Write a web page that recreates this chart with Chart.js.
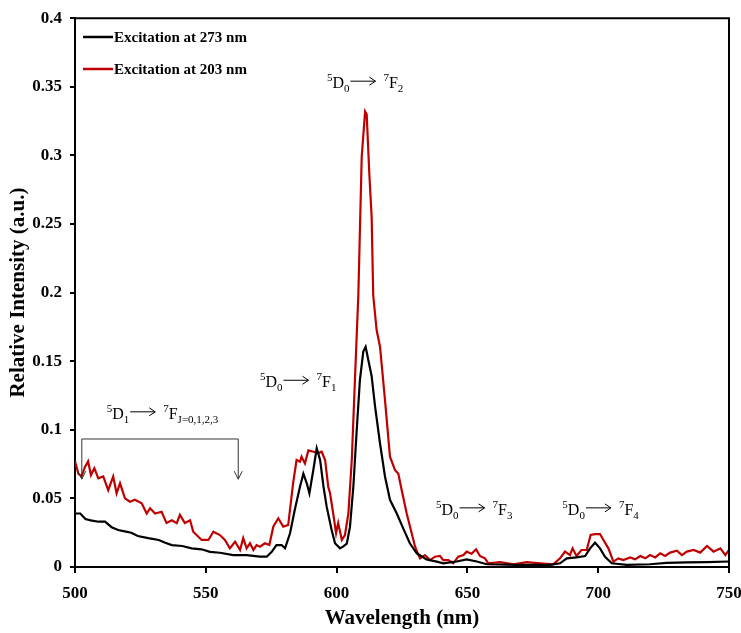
<!DOCTYPE html>
<html>
<head>
<meta charset="utf-8">
<script src="https://cdn.jsdelivr.net/npm/chart.js@4/dist/chart.umd.min.js"></script>
<style>
  html, body { margin: 0; padding: 0; background: #fff; }
  #wrap { width: 741px; height: 633px; }
</style>
</head>
<body>
<div id="wrap"><canvas id="chart" width="741" height="633"></canvas></div>
<script>
// Excitation at 273 nm (black)
const nm273 = [500, 502, 504, 506, 509, 511.5, 514, 516.5, 519, 521.5, 524, 528, 532, 534.5, 537, 541, 544.6, 548.4,
  551.6, 555.4, 560.5, 565.6, 570.7, 573.3, 575.2, 577, 579, 580.3, 582.2, 584, 586, 587.3, 588.6, 589.6, 591.1,
  592.4, 593.7, 595, 596.2, 598.1, 599.4, 601.3, 602.6, 603.9, 605.1, 606.4, 607.7, 608.9, 610.2, 611.1, 612.1,
  613.4, 614.7, 616.6, 618.5, 620.4, 623, 625.5, 628, 630.6, 634.4, 638.3, 640.8, 645.9, 649.7, 653.6, 657.4,
  668.8, 681.6, 685.4, 688, 691.7, 695, 696.9, 698.8, 700.7, 702.6, 705.2, 710.9, 719.8, 726.2, 733.8, 741.5, 750];
const int273 = [0.039, 0.039, 0.035, 0.034, 0.033, 0.033, 0.029, 0.027, 0.026, 0.025, 0.0226, 0.021, 0.0197, 0.0177,
  0.016, 0.0153, 0.0136, 0.0129, 0.011, 0.0104, 0.0087, 0.0087, 0.0075, 0.0075, 0.011, 0.016, 0.016, 0.0136, 0.0246,
  0.0415, 0.0585, 0.068, 0.061, 0.0537, 0.0707, 0.0865, 0.078, 0.0585, 0.044, 0.027, 0.0173, 0.0136, 0.015, 0.017,
  0.029, 0.0585, 0.1, 0.136, 0.157, 0.1605, 0.151, 0.139, 0.117, 0.09, 0.066, 0.049, 0.039, 0.028, 0.0173, 0.01,
  0.0055, 0.0039, 0.0027, 0.004, 0.0056, 0.004, 0.002, 0.0015, 0.0015, 0.0027, 0.0063, 0.007, 0.008, 0.0136, 0.0177,
  0.0136, 0.0075, 0.0027, 0.0015, 0.002, 0.003, 0.0034, 0.0036, 0.004];

// Excitation at 203 nm (red)
const nm203 = [500, 501.3, 502.5, 503.8, 505, 506.1, 507.4, 508.9, 510.8, 512.7, 514.6, 515.9, 517.2, 519.1, 521, 522.9,
  525.5, 527.4, 528.7, 530.6, 533.1, 535, 537, 538.9, 540.1, 542, 544, 545.2, 548.4, 551, 552.9, 555.4, 557.3, 559.2,
  561.2, 563.1, 564.3, 565.6, 566.9, 568.2, 569.4, 570.7, 572.6, 574.3, 575.8, 577.7, 579.6, 581.5, 583.4, 584.7,
  586, 586.6, 587.9, 589.2, 591.1, 593, 594.3, 595.6, 596.8, 597.5, 598.7, 599.8, 600.6, 602, 603.2, 604.5, 605.8,
  607, 608.3, 609.6, 610.9, 611.5, 612.5, 613.4, 614, 615.3, 616.6, 618.5, 620.4, 622.3, 623.6, 624.9, 626.8, 628.7,
  630, 631.3, 631.9, 633.8, 635.7, 637.6, 639.5, 640.8, 642.7, 644.6, 646.5, 648.5, 649.7, 651.6, 653.3, 654.8,
  656.7, 658, 662.5, 667.6, 672.7, 677.8, 682.8, 685.4, 687.3, 689.2, 690.2, 691.7, 693.6, 695.6, 697.1, 698.8,
  700.7, 702, 703.9, 705.8, 707.7, 709.6, 712.2, 714.1, 716.1, 718, 719.8, 721.8, 723.7, 725.6, 727.5, 730.1, 732,
  733.9, 736.5, 739, 741.6, 744.1, 746.7, 748.6, 750];
const int203 = [0.077, 0.068, 0.066, 0.073, 0.077, 0.067, 0.072, 0.0646, 0.066, 0.056, 0.066, 0.0537, 0.061, 0.05,
  0.0476, 0.049, 0.0464, 0.039, 0.0428, 0.039, 0.0403, 0.032, 0.034, 0.032, 0.038, 0.032, 0.034, 0.0257, 0.0197,
  0.0197, 0.0257, 0.0233, 0.0197, 0.0136, 0.0184, 0.0124, 0.021, 0.0136, 0.0173, 0.0124, 0.016, 0.0148, 0.0173, 0.016,
  0.0294, 0.0355, 0.0294, 0.0306, 0.0615, 0.078, 0.0767, 0.0804, 0.0755, 0.085, 0.084, 0.083, 0.084, 0.078, 0.0585,
  0.0537, 0.039, 0.0246, 0.032, 0.0197, 0.0233, 0.039, 0.078, 0.136, 0.1976, 0.299, 0.332, 0.33, 0.287, 0.255, 0.198,
  0.1727, 0.1606, 0.1217, 0.0804, 0.0707, 0.068, 0.056, 0.039, 0.0246, 0.0148, 0.0087, 0.0063, 0.0087, 0.005, 0.0075,
  0.008, 0.005, 0.005, 0.0027, 0.0075, 0.0087, 0.0112, 0.0097, 0.0129, 0.008, 0.0063, 0.0027, 0.0036, 0.002, 0.0036,
  0.0027, 0.002, 0.0063, 0.0112, 0.0087, 0.0136, 0.008, 0.0124, 0.0124, 0.0233, 0.024, 0.024, 0.0197, 0.0136, 0.0039,
  0.0063, 0.005, 0.007, 0.0056, 0.008, 0.0063, 0.0087, 0.007, 0.01, 0.008, 0.0105, 0.0119, 0.0087, 0.0112, 0.0124,
  0.0105, 0.0153, 0.0112, 0.0136, 0.0087, 0.0124];

const seriesLabels = ['Excitation at 273 nm', 'Excitation at 203 nm'];
const xTicks = [500, 550, 600, 650, 700, 750];
const yTicks = [0, 0.05, 0.1, 0.15, 0.2, 0.25, 0.3, 0.35, 0.4];

// transition labels: [x (nm), y (baseline, a.u.), sup1, main1, sub1, sup2, main2, sub2]
const transitions = [
  [596.3, 0.349, '5', 'D', '0', '7', 'F', '2'],
  [570.7, 0.131, '5', 'D', '0', '7', 'F', '1'],
  [512.1, 0.108, '5', 'D', '1', '7', 'F', 'J=0,1,2,3'],
  [638, 0.038, '5', 'D', '0', '7', 'F', '3'],
  [686.3, 0.038, '5', 'D', '0', '7', 'F', '4']
];
// bracket over 5D1 region: [x left, x right, y top, y bottom]
const bracket = [502.6, 562.4, 0.0933, 0.064];

const serif = '"Liberation Serif", "Times New Roman", serif';

function toPoints(xs, ys) {
  return xs.map((x, i) => ({ x: x, y: ys[i] }));
}

function drawTransition(ctx, px, py, t) {
  let cx = px;
  const part = (txt, size, dy) => {
    ctx.font = size + 'px ' + serif;
    ctx.fillText(txt, cx, py + dy);
    cx += ctx.measureText(txt).width;
  };
  part(t[2], 11, -7);
  part(t[3], 16, 0);
  part(t[4], 11, 4);
  // arrow
  const ay = py - 7;
  cx += 1;
  ctx.beginPath();
  ctx.moveTo(cx, ay);
  ctx.lineTo(cx + 25, ay);
  ctx.moveTo(cx + 19, ay - 4);
  ctx.lineTo(cx + 25, ay);
  ctx.lineTo(cx + 19, ay + 4);
  ctx.stroke();
  cx += 33;
  part(t[5], 11, -7);
  part(t[6], 16, 0);
  part(t[7], 11, 4);
}

const extras = {
  id: 'extras',
  afterDraw(chart) {
    const ctx = chart.ctx;
    const xs = chart.scales.x;
    const ys = chart.scales.y;
    const area = chart.chartArea;
    ctx.save();

    // top and right frame
    ctx.strokeStyle = '#000';
    ctx.lineWidth = 2;
    ctx.beginPath();
    ctx.moveTo(area.left, area.top);
    ctx.lineTo(area.right, area.top);
    ctx.lineTo(area.right, area.bottom);
    ctx.stroke();

    // legend
    chart.data.datasets.forEach((ds, i) => {
      const ly = 37 + i * 32;
      ctx.strokeStyle = ds.borderColor;
      ctx.lineWidth = 2.5;
      ctx.beginPath();
      ctx.moveTo(83, ly);
      ctx.lineTo(113, ly);
      ctx.stroke();
      ctx.fillStyle = '#000';
      ctx.font = 'bold 15px ' + serif;
      ctx.textBaseline = 'middle';
      ctx.fillText(ds.label, 114, ly + 1);
    });

    // transition labels
    ctx.textBaseline = 'alphabetic';
    ctx.fillStyle = '#000';
    ctx.strokeStyle = '#000';
    ctx.lineWidth = 1;
    transitions.forEach(t => {
      drawTransition(ctx, xs.getPixelForValue(t[0]), ys.getPixelForValue(t[1]), t);
    });

    // bracket with down arrows
    const bl = xs.getPixelForValue(bracket[0]);
    const br = xs.getPixelForValue(bracket[1]);
    const bt = ys.getPixelForValue(bracket[2]);
    const bb = ys.getPixelForValue(bracket[3]);
    ctx.strokeStyle = '#333';
    ctx.lineWidth = 1;
    ctx.beginPath();
    ctx.moveTo(bl, bb);
    ctx.lineTo(bl, bt);
    ctx.lineTo(br, bt);
    ctx.lineTo(br, bb);
    [bl, br].forEach(x => {
      ctx.moveTo(x - 4, bb - 8);
      ctx.lineTo(x, bb);
      ctx.lineTo(x + 4, bb - 8);
    });
    ctx.stroke();
    ctx.restore();
  }
};

new Chart(document.getElementById('chart'), {
  type: 'line',
  data: {
    datasets: [
      {
        label: seriesLabels[0],
        data: toPoints(nm273, int273),
        borderColor: '#000000',
        borderWidth: 2.2,
        pointRadius: 0,
        tension: 0,
        fill: false
      },
      {
        label: seriesLabels[1],
        data: toPoints(nm203, int203),
        borderColor: '#c00000',
        borderWidth: 2.2,
        pointRadius: 0,
        tension: 0,
        fill: false
      }
    ]
  },
  options: {
    responsive: false,
    animation: false,
    layout: { padding: { top: 18, right: 12, left: 0, bottom: 0 } },
    plugins: {
      legend: { display: false },
      tooltip: { enabled: false }
    },
    scales: {
      x: {
        type: 'linear',
        min: 500,
        max: 750,
        afterBuildTicks: (s) => { s.ticks = xTicks.map(v => ({ value: v })); },
        afterFit: (s) => { s.height = 66; s.paddingRight = 0; s.paddingLeft = 0; },
        border: { color: '#000', width: 2 },
        grid: { drawOnChartArea: false, tickLength: 6, color: '#000', lineWidth: 2 },
        ticks: {
          color: '#000',
          padding: 10,
          font: { family: serif, size: 17, weight: 'bold' }
        },
        title: {
          display: true,
          text: 'Wavelength (nm)',
          color: '#000',
          padding: { top: 0, bottom: 2 },
          font: { family: serif, size: 21, weight: 'bold' }
        }
      },
      y: {
        min: 0,
        max: 0.4,
        afterBuildTicks: (s) => { s.ticks = yTicks.map(v => ({ value: v })); },
        afterFit: (s) => { s.width = 75; },
        border: { color: '#000', width: 2 },
        grid: { drawOnChartArea: false, tickLength: 5, color: '#000', lineWidth: 2 },
        ticks: {
          color: '#000',
          padding: 8,
          font: { family: serif, size: 17, weight: 'bold' },
          callback: (v) => String(Number(v.toFixed(2)))
        },
        title: {
          display: true,
          text: 'Relative Intensity (a.u.)',
          color: '#000',
          padding: { top: 6, bottom: 0 },
          font: { family: serif, size: 21, weight: 'bold' }
        }
      }
    }
  },
  plugins: [extras]
});
</script>
</body>
</html>
